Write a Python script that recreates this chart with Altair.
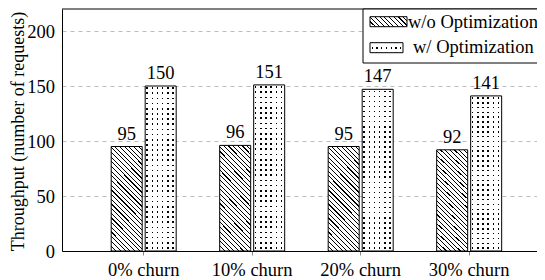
import altair as alt
import pandas as pd

# ---- data ----
groups = ["0% churn", "10% churn", "20% churn", "30% churn"]
series = ["w/o Optimization", "w/ Optimization"]
wo_values = [95, 96, 95, 92]
w_values = [150, 151, 147, 141]
y_ticks = [0, 50, 100, 150, 200]
y_title = "Throughput (number of requests)"

df = pd.DataFrame({
    "group": groups * 2,
    "series": [series[0]] * len(groups) + [series[1]] * len(groups),
    "value": wo_values + w_values,
})
legend_df = pd.DataFrame({"label": series})

FONT = "Liberation Serif"
FS = 18.5
CLEAR = "rgba(255,255,255,0)"
W, H = 475, 242

# ---- pattern helpers (gradient-based textures) ----
def stripe_stops(n, frac, on, off, phase=0.0):
    stops = [{"offset": 0, "color": off}]
    for k in range(-1, n + 1):
        s = (k + phase) / n
        e = (k + phase + frac) / n
        if e <= 0 or s >= 1:
            continue
        s = round(max(s, 0.0), 5)
        e = round(min(e, 1.0), 5)
        stops += [{"offset": s, "color": off}, {"offset": s, "color": on},
                  {"offset": e, "color": on}, {"offset": e, "color": off}]
    stops.append({"offset": 1, "color": off})
    return stops


def hatch(w, h, period=4.6, frac=0.24):
    r = w / h
    b = (1 + r) / (1 + r * r)
    a = r * b
    n = max(1, round((w + h) / period))
    return {"gradient": "linear", "x1": 0, "y1": 1, "x2": round(a, 5), "y2": round(1 - b, 5),
            "stops": stripe_stops(n, frac, "black", "white")}


def vstripes(n, frac, phase):
    return {"gradient": "linear", "x1": 0, "y1": 0, "x2": 1, "y2": 0,
            "stops": stripe_stops(n, frac, "black", "white", phase)}


def hmask(n, frac, phase):
    return {"gradient": "linear", "x1": 0, "y1": 0, "x2": 0, "y2": 1,
            "stops": stripe_stops(n, frac, CLEAR, "white", phase)}


# ---- encodings ----
x_enc = alt.X("group:N", sort=groups,
              scale=alt.Scale(paddingInner=0.401, paddingOuter=0.3895, align=0.582),
              axis=alt.Axis(title=None, labelAngle=0, tickSize=4, tickColor="#888888",
                            domainColor="black", labelPadding=5.5, grid=False))
xo_enc = alt.XOffset("series:N", sort=series,
                     scale=alt.Scale(domain=series, paddingInner=0.088, paddingOuter=0))
y_enc = alt.Y("value:Q", scale=alt.Scale(domain=[0, 220], nice=False),
              axis=alt.Axis(values=y_ticks, title=y_title, grid=True, gridDash=[4, 4],
                            gridColor="#bbbbbb", tickSize=0, labelPadding=7.5,
                            domainColor="black", titleX=-38.5, titleY=122,
                            titleFontSize=18, titleAngle=270, titleAlign="center",
                            titleBaseline="alphabetic"))

base = alt.Chart(df).encode(x=x_enc, xOffset=xo_enc, y=y_enc)

bars_wo = base.transform_filter(alt.datum.series == series[0]).mark_bar(
    fill=hatch(31, 104), stroke="black", strokeWidth=1)
bars_w_a = base.transform_filter(alt.datum.series == series[1]).mark_bar(
    fill=vstripes(6, 0.3, 0.24), strokeWidth=0)
bars_w_b = base.transform_filter(alt.datum.series == series[1]).mark_bar(
    fill=hmask(32, 0.32, 0.25), stroke="black", strokeWidth=1)

labels = base.mark_text(dy=-7, baseline="alphabetic", font=FONT, fontSize=FS, color="black").encode(
    text=alt.Text("value:Q"))

# ---- frame top edge and hand-drawn legend (to carry the textures) ----
one = alt.Data(values=[{"k": 0}])
top_edge = alt.Chart(one).mark_rule(color="black", strokeWidth=1).encode(
    x=alt.value(0), x2=alt.value(W + 40), y=alt.value(0))
leg_box = alt.Chart(one).mark_rect(fill="white", stroke="black", strokeWidth=1).encode(
    x=alt.value(301), x2=alt.value(W + 40), y=alt.value(0), y2=alt.value(54))
sw1 = alt.Chart(one).mark_rect(fill=hatch(37, 10), stroke="black", strokeWidth=1).encode(
    x=alt.value(308), x2=alt.value(345), y=alt.value(7.7), y2=alt.value(17.7))
sw2a = alt.Chart(one).mark_rect(fill=vstripes(7, 0.3, 0.35), strokeWidth=0).encode(
    x=alt.value(308), x2=alt.value(341), y=alt.value(33.7), y2=alt.value(43.7))
sw2b = alt.Chart(one).mark_rect(
    fill={"gradient": "linear", "x1": 0, "y1": 0, "x2": 0, "y2": 1,
          "stops": [{"offset": 0, "color": "white"}, {"offset": 0.4, "color": "white"},
                    {"offset": 0.4, "color": CLEAR}, {"offset": 0.6, "color": CLEAR},
                    {"offset": 0.6, "color": "white"}, {"offset": 1, "color": "white"}]},
    stroke="black", strokeWidth=1).encode(
    x=alt.value(308), x2=alt.value(341), y=alt.value(33.7), y2=alt.value(43.7))
lt1 = alt.Chart(legend_df).transform_filter(alt.datum.label == series[0]).mark_text(
    align="left", baseline="alphabetic", font=FONT, fontSize=FS, color="black").encode(
    x=alt.value(346), y=alt.value(19.3), text="label:N")
lt2 = alt.Chart(legend_df).transform_filter(alt.datum.label == series[1]).mark_text(
    align="left", baseline="alphabetic", font=FONT, fontSize=FS, color="black").encode(
    x=alt.value(351), y=alt.value(44.3), text="label:N")

chart = alt.layer(bars_wo, bars_w_a, bars_w_b, labels, top_edge,
                  leg_box, sw1, sw2a, sw2b, lt1, lt2).properties(
    width=W, height=H,
    autosize=alt.AutoSizeParams(type="none"),
    padding={"left": 54, "top": 1, "right": 0, "bottom": 29},
).configure_view(stroke=None).configure_axis(
    labelFont=FONT, labelFontSize=FS, labelColor="black",
    titleFont=FONT, titleFontSize=FS, titleFontWeight="normal", titleColor="black",
)

chart.save("out.html", embed_options={"renderer": "svg", "actions": False})
